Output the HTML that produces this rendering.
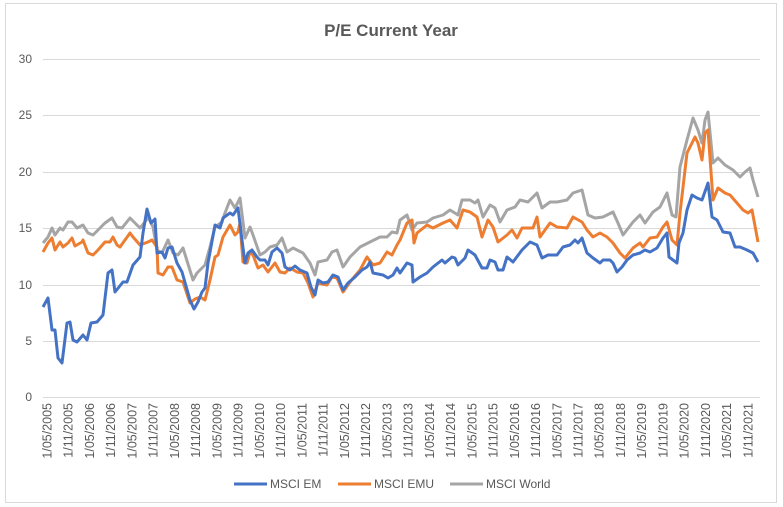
<!DOCTYPE html>
<html><head><meta charset="utf-8"><style>
html,body{margin:0;padding:0;background:#fff;}
svg{display:block;font-family:"Liberation Sans",sans-serif;}
</style></head><body>
<svg width="783" height="507" viewBox="0 0 783 507" xmlns="http://www.w3.org/2000/svg">
<rect x="5.5" y="3.5" width="771" height="499" fill="#fff" stroke="#d9d9d9"/>
<text x="391" y="36" text-anchor="middle" font-size="17" font-weight="bold" fill="#595959">P/E Current Year</text>
<g stroke="#d9d9d9" stroke-width="1">
<line x1="43" y1="59.5" x2="760" y2="59.5"/><line x1="43" y1="115.5" x2="760" y2="115.5"/>
<line x1="43" y1="172.5" x2="760" y2="172.5"/><line x1="43" y1="228.5" x2="760" y2="228.5"/>
<line x1="43" y1="285.5" x2="760" y2="285.5"/><line x1="43" y1="341.5" x2="760" y2="341.5"/>
<line x1="43" y1="397.5" x2="760" y2="397.5"/>
</g>
<g font-size="12" fill="#595959" text-anchor="end">
<text x="32" y="63">30</text><text x="32" y="119">25</text><text x="32" y="176">20</text>
<text x="32" y="232">15</text><text x="32" y="289">10</text><text x="32" y="345">5</text><text x="32" y="401">0</text>
</g>
<g font-size="12.5" fill="#595959" text-anchor="end">
<text transform="translate(51.5,403) rotate(-90)">1/05/2005</text>
<text transform="translate(72.7,403) rotate(-90)">1/11/2005</text>
<text transform="translate(94.0,403) rotate(-90)">1/05/2006</text>
<text transform="translate(115.2,403) rotate(-90)">1/11/2006</text>
<text transform="translate(136.5,403) rotate(-90)">1/05/2007</text>
<text transform="translate(157.7,403) rotate(-90)">1/11/2007</text>
<text transform="translate(178.9,403) rotate(-90)">1/05/2008</text>
<text transform="translate(200.2,403) rotate(-90)">1/11/2008</text>
<text transform="translate(221.4,403) rotate(-90)">1/05/2009</text>
<text transform="translate(242.7,403) rotate(-90)">1/11/2009</text>
<text transform="translate(263.9,403) rotate(-90)">1/05/2010</text>
<text transform="translate(285.1,403) rotate(-90)">1/11/2010</text>
<text transform="translate(306.4,403) rotate(-90)">1/05/2011</text>
<text transform="translate(327.6,403) rotate(-90)">1/11/2011</text>
<text transform="translate(348.9,403) rotate(-90)">1/05/2012</text>
<text transform="translate(370.1,403) rotate(-90)">1/11/2012</text>
<text transform="translate(391.3,403) rotate(-90)">1/05/2013</text>
<text transform="translate(412.6,403) rotate(-90)">1/11/2013</text>
<text transform="translate(433.8,403) rotate(-90)">1/05/2014</text>
<text transform="translate(455.1,403) rotate(-90)">1/11/2014</text>
<text transform="translate(476.3,403) rotate(-90)">1/05/2015</text>
<text transform="translate(497.5,403) rotate(-90)">1/11/2015</text>
<text transform="translate(518.8,403) rotate(-90)">1/05/2016</text>
<text transform="translate(540.0,403) rotate(-90)">1/11/2016</text>
<text transform="translate(561.3,403) rotate(-90)">1/05/2017</text>
<text transform="translate(582.5,403) rotate(-90)">1/11/2017</text>
<text transform="translate(603.7,403) rotate(-90)">1/05/2018</text>
<text transform="translate(625.0,403) rotate(-90)">1/11/2018</text>
<text transform="translate(646.2,403) rotate(-90)">1/05/2019</text>
<text transform="translate(667.5,403) rotate(-90)">1/11/2019</text>
<text transform="translate(688.7,403) rotate(-90)">1/05/2020</text>
<text transform="translate(709.9,403) rotate(-90)">1/11/2020</text>
<text transform="translate(731.2,403) rotate(-90)">1/05/2021</text>
<text transform="translate(752.4,403) rotate(-90)">1/11/2021</text>
</g>
<polyline fill="none" stroke="#a5a5a5" stroke-width="3" stroke-linejoin="round" points="43,243 48,237 52,228 55,235 60,228 63,230 68,222 72,222 77,228 83,225 88,233 93,235 98,230 105,223 112,218 117,227 122,228 130,218 135,223 140,228 145,222 148,217 153,227 157,250 162,253 168,240 173,253 178,255 183,248 193,280 197,273 205,265 210,247 215,227 222,222 225,213 230,200 235,208 240,198 245,238 250,227 253,235 260,255 265,252 270,247 277,245 282,238 287,252 293,248 303,253 310,263 315,275 318,262 327,260 332,252 337,250 343,267 350,257 360,247 370,242 380,237 387,237 392,232 397,233 400,220 407,215 412,230 417,223 427,222 433,218 443,215 450,210 458,215 462,200 470,200 475,203 478,200 483,217 490,205 495,208 500,222 507,210 515,207 520,200 528,202 537,193 542,208 550,202 557,202 567,200 573,193 582,190 588,215 595,218 603,217 613,212 618,223 623,235 633,222 640,215 645,223 653,212 660,207 667,193 672,215 676,217 680,167 687,140 693,118 698,130 702,143 705,120 708,112 713,163 718,158 725,165 733,170 740,177 745,172 750,168 753,180 758,197"/>
<polyline fill="none" stroke="#ed7d31" stroke-width="3" stroke-linejoin="round" points="43,252 48,243 52,238 55,250 60,242 63,247 68,243 72,238 75,246 82,242 83,240 88,253 93,255 98,250 105,242 110,242 113,237 117,245 120,247 130,233 133,237 140,245 148,242 152,240 157,247 158,273 163,275 168,267 172,267 177,280 183,282 190,303 195,299 200,297 205,300 210,280 215,257 218,255 223,237 230,225 235,235 238,232 240,223 243,262 247,263 250,252 253,255 258,268 263,265 268,272 275,263 280,272 285,273 290,268 297,272 303,273 308,283 313,297 318,283 327,285 332,277 337,278 343,292 350,282 360,270 367,257 373,265 380,263 387,252 392,255 397,245 400,240 407,223 412,220 414,243 417,233 427,225 433,228 443,223 450,220 457,228 463,210 470,212 477,217 482,237 488,220 493,227 498,242 507,235 512,230 517,238 522,228 533,228 537,217 540,237 550,223 557,227 567,228 573,217 582,222 587,230 593,237 600,233 607,237 613,243 620,253 625,258 633,248 640,243 643,247 650,238 657,237 663,227 667,222 672,240 677,245 680,213 687,153 695,137 698,143 702,160 705,133 708,130 713,200 718,188 725,193 730,195 737,203 743,210 748,213 752,210 758,242"/>
<polyline fill="none" stroke="#4472c4" stroke-width="3" stroke-linejoin="round" points="43,307 48,298 52,330 55,330 58,358 62,363 67,323 70,322 73,340 77,342 83,335 87,340 91,323 97,322 103,315 108,273 112,270 115,292 123,282 127,282 133,265 140,257 143,233 147,209 151,223 155,219 157,253 162,252 165,258 168,248 172,247 177,263 182,272 190,300 194,309 198,302 202,292 205,288 208,263 215,225 220,228 223,218 230,213 233,215 238,208 242,240 245,263 248,253 252,250 257,257 260,260 265,260 268,265 272,252 277,248 282,253 285,267 290,270 295,266 300,270 307,273 311,287 315,295 318,280 323,283 328,282 333,275 338,277 343,290 348,283 355,277 362,270 367,267 370,262 373,273 383,275 388,278 393,275 397,268 400,273 407,263 412,265 413,282 420,277 427,273 433,267 442,260 445,263 452,257 455,258 458,265 465,258 468,250 475,255 482,268 487,268 490,260 495,262 498,270 503,270 507,257 513,262 522,250 530,242 537,245 542,258 548,255 557,255 563,247 570,245 575,240 578,243 582,238 587,253 593,258 600,263 603,260 610,260 613,263 617,272 622,267 627,260 633,255 640,253 645,250 650,252 657,248 663,238 667,233 669,257 677,263 679,243 683,233 687,210 692,195 697,198 702,200 708,183 712,217 717,220 723,232 730,233 735,247 740,247 747,250 753,253 758,262"/>
<g stroke="#4472c4" stroke-width="3"><line x1="234" y1="484" x2="267" y2="484"/></g>
<g stroke="#ed7d31" stroke-width="3"><line x1="338" y1="484" x2="371" y2="484"/></g>
<g stroke="#a5a5a5" stroke-width="3"><line x1="450" y1="484" x2="483" y2="484"/></g>
<g font-size="12" fill="#595959">
<text x="270" y="488">MSCI EM</text><text x="374" y="488">MSCI EMU</text><text x="486" y="488">MSCI World</text>
</g>
</svg>
</body></html>
